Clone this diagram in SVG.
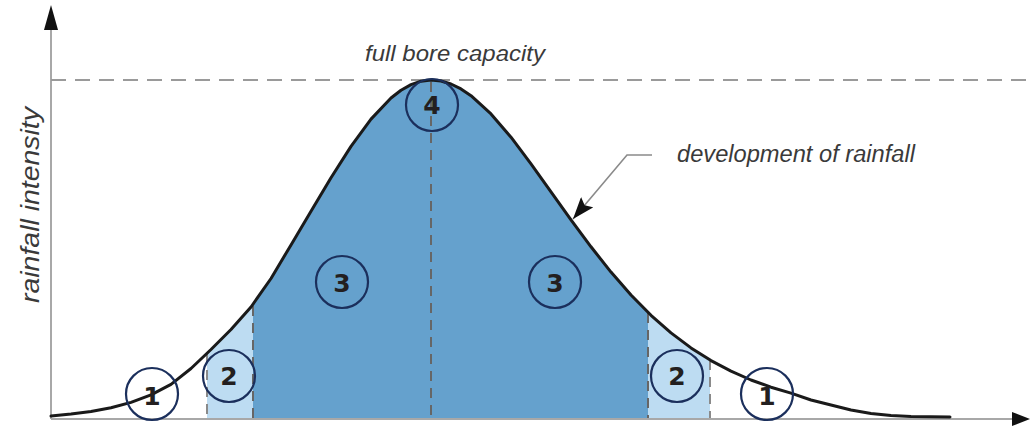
<svg xmlns="http://www.w3.org/2000/svg" width="1030" height="428" viewBox="0 0 1030 428">
  <style>
    .axis { stroke: #a8a8a8; stroke-width: 2; fill: none; }
    .cap { stroke: #9a9a9a; stroke-width: 2; stroke-dasharray: 15 9; fill: none; }
    .vd { stroke: #666; stroke-width: 2; stroke-dasharray: 10 7; fill: none; }
    .vdl { stroke: #8a8a8a; stroke-width: 2; stroke-dasharray: 10 7; fill: none; }
    .curve { stroke: #1a1a1a; stroke-width: 3; fill: none; stroke-linejoin: round; stroke-linecap: round; }
    .mark { fill: none; stroke: #1b2f5c; stroke-width: 2.2; }
    .num { font-family: "DejaVu Sans", "Liberation Sans", sans-serif; font-weight: bold; font-size: 25px; fill: #231f20; text-anchor: middle; }
    .lbl { font-family: "Liberation Sans", Arial, sans-serif; font-style: italic; fill: #3a3a3a; }
  </style>
  <defs>
    <path id="curvePath" d="M51,416 L71,414 L91,411.5 L111,407.8 L131,402.4 L151,394.8 L171,384.4 L191,368.5 L211,349.5 L231,329.5 L251,307 L271,278.5 L291,244.9 L311,211.3 L331,177.8 L351,146.4 L371,119.1 L391,98 L401,90.2 L411,84.6 L421,81.2 L431,80 L441,81 L451,84 L461,88.9 L471,95.7 L491,113.9 L511,137.2 L531,163.9 L551,191.8 L571,219.8 L591,246.8 L611,272.1 L631,295 L651,315.3 L671,332.9 L691,347.9 L711,360.6 L731,371.2 L751,380 L771,387.2 L791,393.1 L811,400 L831,405 L851,410 L871,413.5 L891,415.5 L911,416.5 L950,417"/>
    <clipPath id="under">
      <path d="M51,416 L71,414 L91,411.5 L111,407.8 L131,402.4 L151,394.8 L171,384.4 L191,368.5 L211,349.5 L231,329.5 L251,307 L271,278.5 L291,244.9 L311,211.3 L331,177.8 L351,146.4 L371,119.1 L391,98 L401,90.2 L411,84.6 L421,81.2 L431,80 L441,81 L451,84 L461,88.9 L471,95.7 L491,113.9 L511,137.2 L531,163.9 L551,191.8 L571,219.8 L591,246.8 L611,272.1 L631,295 L651,315.3 L671,332.9 L691,347.9 L711,360.6 L731,371.2 L751,380 L771,387.2 L791,393.1 L811,400 L831,405 L851,410 L871,413.5 L891,415.5 L911,416.5 L950,417 L950,419 L51,419 Z"/>
    </clipPath>
    <marker id="arrowBlk" markerUnits="userSpaceOnUse" markerWidth="24" markerHeight="16" refX="22" refY="8" orient="auto">
      <path d="M0,0 L22,8 L0,16 L4,8 Z" fill="#111"/>
    </marker>
  </defs>

  <g id="fills" clip-path="url(#under)">
    <rect x="207" y="60" width="46" height="360" fill="#bddcf2"/>
    <rect x="253" y="60" width="395" height="360" fill="#65a1cd"/>
    <rect x="648" y="60" width="62" height="360" fill="#bddcf2"/>
  </g>

  <g id="axes">
    <line class="axis" x1="51" y1="419" x2="51" y2="28"/>
    <polygon points="51,5 44,30 58,30" fill="#111"/>
    <line class="axis" x1="51" y1="419" x2="1014" y2="419"/>
    <polygon points="1030,419 1012,412 1012,426" fill="#111"/>
    <line class="cap" x1="51" y1="80" x2="1030" y2="80"/>
  </g>

  <g id="dividers">
    <line class="vdl" x1="207" y1="353" x2="207" y2="418"/>
    <line class="vd" x1="253" y1="306" x2="253" y2="418"/>
    <line class="vd" x1="431" y1="82" x2="431" y2="418"/>
    <line class="vd" x1="648" y1="313" x2="648" y2="418"/>
    <line class="vdl" x1="710" y1="360" x2="710" y2="418"/>
  </g>

  <g id="rainfall-curve">
    <use href="#curvePath" class="curve"/>
  </g>

  <g id="connectors">
    <polyline points="652,155 627,155 573,219" fill="none" stroke="#8a8a8a" stroke-width="1.6" marker-end="url(#arrowBlk)"/>
  </g>

  <g id="zone-1-left"><circle class="mark" cx="152" cy="394" r="26"/><text class="num" x="152" y="405">1</text></g>
  <g id="zone-2-left"><circle class="mark" cx="229" cy="376" r="26"/><text class="num" x="229" y="385">2</text></g>
  <g id="zone-3-left"><circle class="mark" cx="342" cy="282" r="26"/><text class="num" x="342" y="292">3</text></g>
  <g id="zone-4"><circle class="mark" cx="432" cy="105" r="26"/><text class="num" x="432" y="114">4</text></g>
  <g id="zone-3-right"><circle class="mark" cx="555" cy="282" r="26"/><text class="num" x="555" y="292">3</text></g>
  <g id="zone-2-right"><circle class="mark" cx="677" cy="376" r="26"/><text class="num" x="677" y="385">2</text></g>
  <g id="zone-1-right"><circle class="mark" cx="767" cy="394" r="26"/><text class="num" x="767" y="405">1</text></g>

  <g id="labels">
    <text class="lbl" x="365" y="61" font-size="22" textLength="180" lengthAdjust="spacingAndGlyphs">full bore capacity</text>
    <text class="lbl" x="677" y="162" font-size="23" textLength="238" lengthAdjust="spacingAndGlyphs">development of rainfall</text>
    <text class="lbl" transform="translate(39,303) rotate(-90)" x="0" y="0" font-size="25" textLength="196" lengthAdjust="spacingAndGlyphs">rainfall intensity</text>
  </g>
</svg>
